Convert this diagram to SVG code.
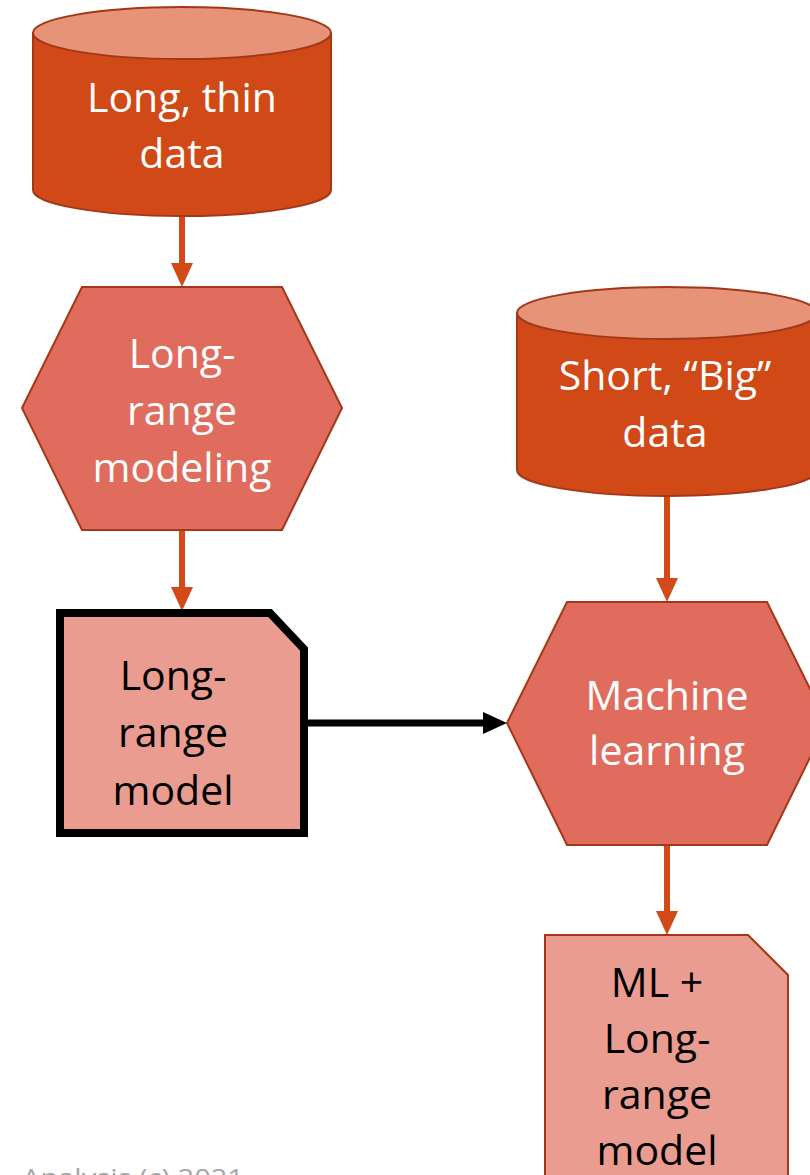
<svg xmlns="http://www.w3.org/2000/svg" width="810" height="1175" viewBox="0 0 810 1175">
<defs>
<style>
.cyl{fill:#D14916;stroke:#A23819;stroke-width:2}
.cyltop{fill:#E69377;stroke:#A23819;stroke-width:2}
.hex{fill:#E06C5E;stroke:#A23819;stroke-width:2}
.doc{fill:#EA9C91}
.w{fill:#ffffff;font-family:"Open Sans","Liberation Sans",sans-serif;font-size:41px;text-anchor:middle}
.b{fill:#000000;font-family:"Open Sans","Liberation Sans",sans-serif;font-size:41px;text-anchor:middle}
.oc{stroke:#D24A17;stroke-width:6;fill:none}
.bc{stroke:#000000;stroke-width:7;fill:none}
</style>
<marker id="ao" markerUnits="userSpaceOnUse" markerWidth="24" markerHeight="22" refX="0" refY="11" orient="auto" viewBox="0 0 24 22">
<path d="M0,0 L24,11 L0,22 Z" fill="#D24A17"/>
</marker>
<marker id="ab" markerUnits="userSpaceOnUse" markerWidth="24" markerHeight="22" refX="0" refY="11" orient="auto" viewBox="0 0 24 22">
<path d="M0,0 L24,11 L0,22 Z" fill="#000000"/>
</marker>
</defs>
<rect width="810" height="1175" fill="#ffffff"/>
<g id="connectors">
<line class="oc" x1="182" y1="216" x2="182" y2="263" marker-end="url(#ao)"/>
<line class="oc" x1="182" y1="531" x2="182" y2="587" marker-end="url(#ao)"/>
<line class="oc" x1="667" y1="496" x2="667" y2="578" marker-end="url(#ao)"/>
<line class="oc" x1="667" y1="846" x2="667" y2="911" marker-end="url(#ao)"/>
<line class="bc" x1="308" y1="723" x2="483" y2="723" marker-end="url(#ab)"/>
</g>
<g id="long-thin-data">
<path class="cyl" d="M33,33 L33,190 A149,26 0 0 0 331,190 L331,33 Z"/>
<ellipse class="cyltop" cx="182" cy="33" rx="149" ry="26"/>
<text class="w" x="182" y="112">Long, thin</text>
<text class="w" x="182" y="168">data</text>
</g>
<g id="long-range-modeling">
<polygon class="hex" points="22,408 82,287 282,287 342,408 282,530 82,530"/>
<text class="w" x="182" y="368">Long-</text>
<text class="w" x="182" y="425">range</text>
<text class="w" x="182" y="482">modeling</text>
</g>
<g id="long-range-model">
<path class="doc" d="M60,613 L270,613 L304,649 L304,833 L60,833 Z" stroke="#000000" stroke-width="8"/>
<text class="b" x="173" y="690">Long-</text>
<text class="b" x="173" y="747">range</text>
<text class="b" x="173" y="805">model</text>
</g>
<g id="short-big-data">
<path class="cyl" d="M517,313 L517,470 A150,26 0 0 0 817,470 L817,313 Z"/>
<ellipse class="cyltop" cx="667" cy="313" rx="150" ry="26"/>
<text class="w" x="665" y="390">Short, “Big”</text>
<text class="w" x="665" y="447">data</text>
</g>
<g id="machine-learning">
<polygon class="hex" points="507,723 567,602 767,602 827,723 767,845 567,845"/>
<text class="w" x="667" y="710">Machine</text>
<text class="w" x="667" y="765">learning</text>
</g>
<g id="ml-long-range-model">
<path class="doc" d="M545,935 L748,935 L788,975 L788,1190 L545,1190 Z" stroke="#A23819" stroke-width="2"/>
<text class="b" x="657" y="997">ML +</text>
<text class="b" x="657" y="1053">Long-</text>
<text class="b" x="657" y="1109">range</text>
<text class="b" x="657" y="1165">model</text>
</g>
<text x="22" y="1187" fill="#A6A6A6" font-family="Open Sans, Liberation Sans, sans-serif" font-size="26" textLength="222" lengthAdjust="spacingAndGlyphs">Analysis (c) 2021</text>
</svg>
